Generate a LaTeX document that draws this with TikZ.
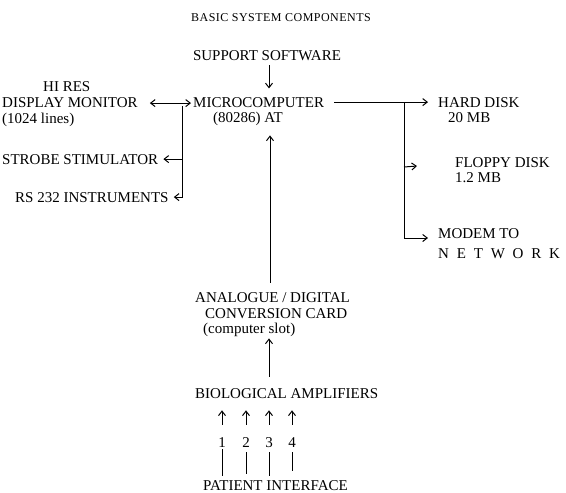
\documentclass[tikz,border=0pt]{standalone}
\usepackage{fontspec}
\setmainfont{Liberation Serif}
\usetikzlibrary{arrows.meta,calc}
\newcommand\netsp{\hspace{7.8pt}}
\begin{document}
\begin{tikzpicture}[x=1pt,y=-1pt,
  t/.style={inner sep=0pt, anchor=base west, font=\fontsize{15}{16}\selectfont},
  ln/.style={line width=1pt},
  arr/.style={ln,-{Straight Barb[length=4.5pt,width=7pt]}},
  darr/.style={ln,{Straight Barb[length=4.5pt,width=7pt]}-{Straight Barb[length=4.5pt,width=7pt]}},
]
\useasboundingbox (0,0) rectangle (566,493);
% title
\node[t, anchor=base, font=\fontsize{12}{14}\selectfont\addfontfeature{LetterSpace=4}] (title) at (281,21) {BASIC SYSTEM COMPONENTS};
% top
\node[t, anchor=base] (sw) at (267,60) {SUPPORT SOFTWARE};
\node[t] (mc1) at (193,107) {MICROCOMPUTER};
\node[t] (mc2) at (213,122) {(80286) AT};
\draw[arr] ($(sw.south)+(2,5)$) -- ++(0,23);
% left
\node[t] (hr) at (43,91) {HI RES};
\node[t] (dm) at (2,107) {DISPLAY MONITOR};
\node[t] (dl) at (2,123) {(1024 lines)};
\node[t] (ss) at (2,164) {STROBE STIMULATOR};
\node[t] (rs) at (15,202) {RS 232 INSTRUMENTS};
\draw[darr] ($(dm.east)+(12,1)$) -- ($(mc1.west |- dm.east)+(-2,1)$);
\coordinate (lb) at (182,106);
\draw[arr] (lb) |- ($(rs.east)+(5,0)$);
\draw[arr] (lb |- ss.east) -- ($(ss.east)+(5,0)$);
% right
\node[t] (hd) at (438,107) {HARD DISK};
\node[t] (hd2) at (448,122) {20 MB};
\node[t] (fd) at (455,167) {FLOPPY DISK};
\node[t] (fd2) at (455,182) {1.2 MB};
\node[t] (md) at (438,238) {MODEM TO};
\node[t] (md2) at (438,258) {N\netsp E\netsp T\netsp W\netsp O\netsp R\netsp K};
\coordinate (rb) at (404,102);
\draw[arr] ($(mc1.east)+(10,0)$) -- ($(hd.west)+(-10,0)$);
\draw[arr] (rb) |- ($(md.base west)+(-10,0)$);
\draw[arr] (rb |- fd.base west) -- ++(13,-1);
% middle
\coordinate (ax) at (270,0);
\node[t] (ad1) at (195,302) {ANALOGUE / DIGITAL};
\node[t] (ad2) at (205,318) {CONVERSION CARD};
\node[t] (ad3) at (203,333) {(computer slot)};
\draw[arr] ($(ax |- ad1.north)+(0,-9)$) -- ($(ax |- mc2.south)+(0,10)$);
\node[t] (bio) at (195,398) {BIOLOGICAL AMPLIFIERS};
\draw[arr] ($(ax |- bio.north)+(-1,-11)$) -- ($(ax |- ad3.south)+(-1,2)$);
% channels
\node[t] (pi) at (203,490) {PATIENT INTERFACE};
\foreach \i/\x in {1/222,2/246,3/269,4/292}{
  \node[t, anchor=base] (n\i) at (\x,447) {\i};
  \draw[arr] ($(n\i.north)+(0,-12)$) -- ($(n\i.north |- bio.south)+(0,12)$);
}
\draw[ln] ($(n1.south)+(0,2)$) -- ($(n1.south |- pi.north)+(0,-4)$);
\draw[ln] ($(n2.south)+(0,5)$) -- ($(n2.south |- pi.north)+(0,-6)$);
\draw[ln] ($(n3.south)+(0,5)$) -- ($(n3.south |- pi.north)+(0,-4)$);
\draw[line width=0.6pt] ($(n4.south)+(0,5)$) -- ($(n4.south |- pi.north)+(0,-9)$);
\end{tikzpicture}
\end{document}
